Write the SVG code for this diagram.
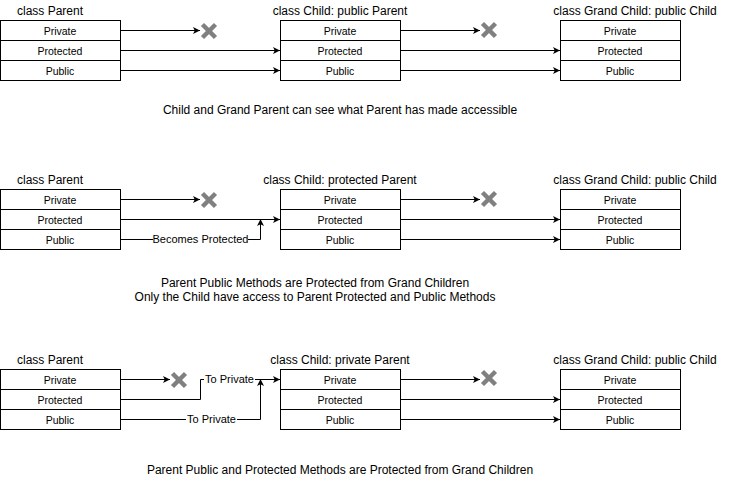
<svg xmlns="http://www.w3.org/2000/svg" width="731" height="480" viewBox="0 0 731 480">
<style>
.c{fill:#fff;stroke:#000;stroke-width:1}
.t{font-family:"Liberation Sans",Arial,sans-serif;font-size:10.5px;fill:#000;text-anchor:middle}
.e{font-family:"Liberation Sans",Arial,sans-serif;font-size:11px;fill:#000;text-anchor:middle}
.h{font-family:"Liberation Sans",Arial,sans-serif;font-size:12px;fill:#000;text-anchor:middle}
.l{fill:none;stroke:#000;stroke-width:1}
.x{stroke:#808080;stroke-width:4.5;stroke-linecap:butt}
.lb{fill:#fff}
</style>
<defs>
<marker id="a" viewBox="0 0 10 10" refX="10" refY="5" markerWidth="7" markerHeight="7" markerUnits="userSpaceOnUse" orient="auto"><path d="M0,0 L10,5 L0,10 L2.5,5 Z" fill="#000"/></marker>
<g id="xm"><line class="x" x1="-6.5" y1="-6.5" x2="6.5" y2="6.5"/><line class="x" x1="-6.5" y1="6.5" x2="6.5" y2="-6.5"/></g>
</defs>
<rect width="731" height="480" fill="#fff"/>

<g id="s1-parent">
<text class="h" x="50" y="15">class Parent</text>
<rect class="c" x="0.5" y="20.5" width="120" height="20"/><text class="t" x="60" y="35">Private</text>
<rect class="c" x="0.5" y="40.5" width="120" height="20"/><text class="t" x="60" y="55">Protected</text>
<rect class="c" x="0.5" y="60.5" width="120" height="20"/><text class="t" x="60" y="75">Public</text>
</g>
<g id="s1-child">
<text class="h" x="340" y="15">class Child: public Parent</text>
<rect class="c" x="280.5" y="20.5" width="120" height="20"/><text class="t" x="340" y="35">Private</text>
<rect class="c" x="280.5" y="40.5" width="120" height="20"/><text class="t" x="340" y="55">Protected</text>
<rect class="c" x="280.5" y="60.5" width="120" height="20"/><text class="t" x="340" y="75">Public</text>
</g>
<g id="s1-grand">
<text class="h" x="635" y="15">class Grand Child: public Child</text>
<rect class="c" x="560.5" y="20.5" width="120" height="20"/><text class="t" x="620" y="35">Private</text>
<rect class="c" x="560.5" y="40.5" width="120" height="20"/><text class="t" x="620" y="55">Protected</text>
<rect class="c" x="560.5" y="60.5" width="120" height="20"/><text class="t" x="620" y="75">Public</text>
</g>
<g id="s1-x1"><use href="#xm" x="209" y="31"/></g>
<g id="s1-x2"><use href="#xm" x="489" y="30"/></g>
<text id="s1-caption" class="h" x="340" y="114">Child and Grand Parent can see what Parent has made accessible</text>

<g id="s2-parent">
<text class="h" x="50" y="184">class Parent</text>
<rect class="c" x="0.5" y="189.5" width="120" height="20"/><text class="t" x="60" y="204">Private</text>
<rect class="c" x="0.5" y="209.5" width="120" height="20"/><text class="t" x="60" y="224">Protected</text>
<rect class="c" x="0.5" y="229.5" width="120" height="20"/><text class="t" x="60" y="244">Public</text>
</g>
<g id="s2-child">
<text class="h" x="340" y="184">class Child: protected Parent</text>
<rect class="c" x="280.5" y="189.5" width="120" height="20"/><text class="t" x="340" y="204">Private</text>
<rect class="c" x="280.5" y="209.5" width="120" height="20"/><text class="t" x="340" y="224">Protected</text>
<rect class="c" x="280.5" y="229.5" width="120" height="20"/><text class="t" x="340" y="244">Public</text>
</g>
<g id="s2-grand">
<text class="h" x="635" y="184">class Grand Child: public Child</text>
<rect class="c" x="560.5" y="189.5" width="120" height="20"/><text class="t" x="620" y="204">Private</text>
<rect class="c" x="560.5" y="209.5" width="120" height="20"/><text class="t" x="620" y="224">Protected</text>
<rect class="c" x="560.5" y="229.5" width="120" height="20"/><text class="t" x="620" y="244">Public</text>
</g>
<g id="s2-x1"><use href="#xm" x="209" y="200"/></g>
<g id="s2-x2"><use href="#xm" x="489" y="199"/></g>
<text id="s2-caption1" class="h" x="315" y="287">Parent Public Methods are Protected from Grand Children</text>
<text id="s2-caption2" class="h" x="315" y="301">Only the Child have access to Parent Protected and Public Methods</text>

<g id="s3-parent">
<text class="h" x="50" y="364">class Parent</text>
<rect class="c" x="0.5" y="369.5" width="120" height="20"/><text class="t" x="60" y="384">Private</text>
<rect class="c" x="0.5" y="389.5" width="120" height="20"/><text class="t" x="60" y="404">Protected</text>
<rect class="c" x="0.5" y="409.5" width="120" height="20"/><text class="t" x="60" y="424">Public</text>
</g>
<g id="s3-child">
<text class="h" x="340" y="364">class Child: private Parent</text>
<rect class="c" x="280.5" y="369.5" width="120" height="20"/><text class="t" x="340" y="384">Private</text>
<rect class="c" x="280.5" y="389.5" width="120" height="20"/><text class="t" x="340" y="404">Protected</text>
<rect class="c" x="280.5" y="409.5" width="120" height="20"/><text class="t" x="340" y="424">Public</text>
</g>
<g id="s3-grand">
<text class="h" x="635" y="364">class Grand Child: public Child</text>
<rect class="c" x="560.5" y="369.5" width="120" height="20"/><text class="t" x="620" y="384">Private</text>
<rect class="c" x="560.5" y="389.5" width="120" height="20"/><text class="t" x="620" y="404">Protected</text>
<rect class="c" x="560.5" y="409.5" width="120" height="20"/><text class="t" x="620" y="424">Public</text>
</g>
<g id="s3-x1"><use href="#xm" x="179" y="380"/></g>
<g id="s3-x2"><use href="#xm" x="489" y="378"/></g>
<text id="s3-caption" class="h" x="340" y="474">Parent Public and Protected Methods are Protected from Grand Children</text>

<g id="connectors">
<path class="l" marker-end="url(#a)" d="M120.5,30.5 H200"/>
<path class="l" marker-end="url(#a)" d="M120.5,50.5 H280"/>
<path class="l" marker-end="url(#a)" d="M120.5,70.5 H280"/>
<path class="l" marker-end="url(#a)" d="M400.5,30.5 H480"/>
<path class="l" marker-end="url(#a)" d="M400.5,50.5 H560"/>
<path class="l" marker-end="url(#a)" d="M400.5,70.5 H560"/>

<path class="l" marker-end="url(#a)" d="M120.5,199.5 H200"/>
<path class="l" marker-end="url(#a)" d="M120.5,219.5 H280"/>
<path class="l" marker-end="url(#a)" d="M120.5,239.5 H260.5 V219"/>
<path class="l" marker-end="url(#a)" d="M400.5,199.5 H480"/>
<path class="l" marker-end="url(#a)" d="M400.5,219.5 H560"/>
<path class="l" marker-end="url(#a)" d="M400.5,239.5 H560"/>
<rect class="lb" x="153" y="233" width="95" height="13"/>
<text class="e" x="200.5" y="243">Becomes Protected</text>

<path class="l" marker-end="url(#a)" d="M120.5,379.5 H170"/>
<path class="l" marker-end="url(#a)" d="M120.5,399.5 H200.5 V379.5 H280"/>
<path class="l" marker-end="url(#a)" d="M120.5,419.5 H260.5 V379"/>
<path class="l" marker-end="url(#a)" d="M400.5,379.5 H480"/>
<path class="l" marker-end="url(#a)" d="M400.5,399.5 H560"/>
<path class="l" marker-end="url(#a)" d="M400.5,419.5 H560"/>
<rect class="lb" x="204" y="373" width="51" height="13"/>
<text class="e" x="229.5" y="383">To Private</text>
<rect class="lb" x="186" y="413" width="51" height="13"/>
<text class="e" x="211.5" y="423">To Private</text>
</g>
</svg>
